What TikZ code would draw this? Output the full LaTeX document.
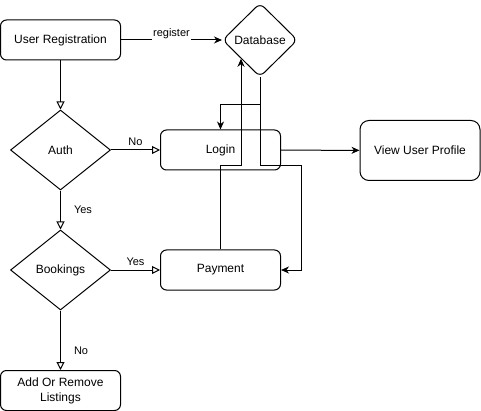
\documentclass[tikz,border=0pt]{standalone}
\usepackage{fontspec}
\setmainfont{Liberation Sans}
\usepackage{tikz}
\usetikzlibrary{shapes.geometric, positioning, arrows.meta}
\tikzset{
every node/.style={font=\fontsize{12}{15}\selectfont}, % text size of the boxes
block/.style={draw, rounded corners=6pt, minimum width=120pt, minimum height=40pt, inner sep=0pt, align=center}, % rounded process boxes
choice/.style={draw, diamond, minimum width=100pt, minimum height=80pt, inner sep=0pt}, % decision diamonds
store/.style={draw, diamond, rounded corners=6pt, minimum width=75pt, minimum height=74pt, inner sep=0pt}, % the database
tag/.style={font=\fontsize{11}{13}\selectfont, inner sep=4pt}, % text on the edges
hollow/.style={-{Triangle[open, length=8pt, width=8pt]}}, % open arrow heads
sharp/.style={-{Stealth[length=8pt, width=7pt, inset=2.5pt]}}, % filled arrow heads
}

\begin{document}
\begin{tikzpicture}[x=1pt, y=-1pt, line width=1pt]
    \useasboundingbox (0,0) rectangle (481,411);
    \node[block] (reg) at (60.5,40) {User Registration};
    \node[store] (db) at (260,40) {Database};
    \node[choice] (auth) at (60.5,150) {Auth};
    \node[block] (login) at (220.5,150) {Login};
    \node[block, minimum height=60pt, rounded corners=9pt] (profile) at (420,150.5) {View User Profile};
    \node[choice] (book) at (60.5,270) {Bookings};
    \node[block] (pay) at (220.5,270) {Payment};
    \node[block] (listing) at (60.5,390.5) {Add Or Remove\\Listings};
    \coordinate (seam) at ([yshift=5pt]login.south);

    \draw[sharp] (reg) -- node[tag, fill=white, inner sep=1pt, anchor=base, yshift=3pt] {register} (db);
    \draw[hollow] (reg) -- (auth);
    \draw[hollow] (auth) -- node[tag, above] {No} (login);
    \draw[hollow] (auth) -- node[tag, right=9pt] {Yes} (book);
    \draw[hollow] (book) -- node[tag, above] {Yes} (pay);
    \draw[hollow] (book) -- node[tag, right=9pt, pos=0.67] {No} (listing);
    \draw[sharp] (login) -- (profile);
    \draw[sharp] (db.south) |- ([yshift=25pt]login.north) -- (login.north);
    \draw[sharp] (db.south) |- ([shift={(20pt,5pt)}]login.south east) |- (pay.east);
    \draw[sharp] (pay.north) |- (seam -| db.south west) -- (db.south west);
\end{tikzpicture}
\end{document}
